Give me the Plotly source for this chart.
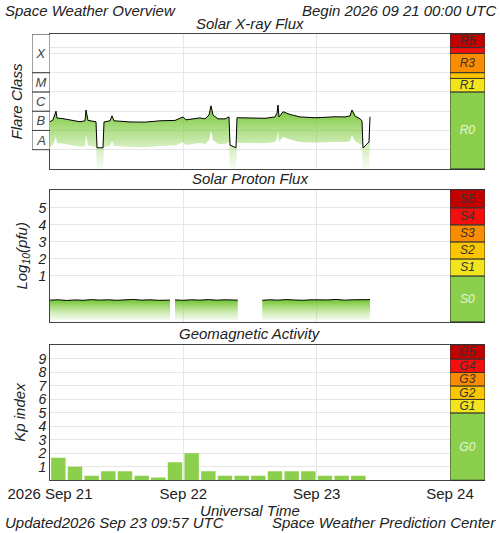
import pandas as pd
import plotly.graph_objects as go

start = pd.Timestamp("2026-09-21 00:00")

# X-ray flux, log10(W/m2), hours from start
xray_hours = [0, 0.54, 1.08, 1.26, 2.16, 2.88, 3.6, 4.5, 5.4, 6.3, 6.48, 6.84, 7.92, 8.28, 8.46,
              9.54, 9.72, 10.8, 11.16, 11.52, 14.4, 17.1, 19.8, 22.5, 23.94, 24.48, 27, 27.9,
              28.62, 28.98, 29.34, 30.24, 31.5, 32.22, 32.4, 33.48, 33.66, 36, 38.7, 40.5,
              40.86, 41.04, 41.22, 41.94, 43.2, 45, 47.7, 49.5, 51.3, 53.1, 54, 54.36, 54.9,
              55.8, 56.16, 56.34, 57.06, 57.42, 57.6]
xray_log = [-6.55, -6.45, -6.0, -6.36, -6.38, -6.42, -6.45, -6.5, -6.55, -6.5, -5.94, -6.48,
            -6.52, -6.55, -7.9, -7.9, -6.56, -6.5, -6.24, -6.5, -6.56, -6.57, -6.5, -6.48,
            -6.3, -6.45, -6.35, -6.4, -6.2, -5.72, -6.2, -6.4, -6.4, -6.3, -7.76, -7.9, -6.34,
            -6.37, -6.37, -6.3, -6.1, -5.68, -6.3, -6.03, -6.17, -6.3, -6.34, -6.32, -6.29,
            -6.3, -6.25, -5.94, -6.25, -6.4, -6.5, -7.91, -7.7, -7.6, -6.29]

# Proton flux log10(pfu), hours from start (None = data gap)
proton_hours = [0, 1.5, 3, 4.5, 6, 7.5, 9, 10.5, 12, 13.5, 15, 16.5, 18, 19.5, 21, 21.6, None,
                22.5, 24, 25.5, 27, 28.5, 30, 31.5, 33, 33.8, None,
                38.2, 39.5, 41, 42.5, 44, 45.5, 47, 48.5, 50, 51.5, 53, 54.5, 56, 57.6]
proton_log = [-0.42, -0.4, -0.44, -0.41, -0.43, -0.39, -0.42, -0.4, -0.43, -0.41, -0.38, -0.42,
              -0.4, -0.43, -0.41, -0.42, None,
              -0.41, -0.43, -0.4, -0.42, -0.39, -0.42, -0.4, -0.41, -0.42, None,
              -0.43, -0.4, -0.42, -0.39, -0.41, -0.43, -0.4, -0.42, -0.41, -0.38, -0.42,
              -0.4, -0.41, -0.39]

# Kp index, 3-hour bins
kp_values = [1.67, 1.0, 0.33, 0.67, 0.67, 0.33, 0.2, 1.33, 2.0, 0.67, 0.33, 0.33, 0.33,
             0.67, 0.67, 0.67, 0.33, 0.33, 0.33]

flare_classes = ["A", "B", "C", "M", "X"]
flare_base = [-8, -7, -6, -5, -4]
flare_top = [-7, -6, -5, -4, -2]

r_labels = ["R0", "R1", " ", "R3", " ", "R5"]
r_base = [-9, -5, -4.301, -4, -3, -2.699]
r_top = [-5, -4.301, -4, -3, -2.699, -2]
s_labels = ["S0", "S1", "S2", "S3", "S4", "S5"]
s_base = [-1.7, 1, 2, 3, 4, 5]
s_top = [1, 2, 3, 4, 5, 6.06]
g_labels = ["G0", "G1", "G2", "G3", "G4", "G5"]
g_base = [0, 5, 6, 7, 8, 9]
g_top = [5, 6, 7, 8, 9, 10.05]
scale_colors = ["#8ccf4c", "#f2e51c", "#fbc500", "#fa8c00", "#f50e0e", "#c20000"]
scale_text = ["#e8f5dc", "#333", "#333", "#333", "#333", "#333"]

FONT = "Liberation Sans"
FADE = [[0, "rgba(125,204,58,0)"], [0.4, "rgba(125,204,58,0.35)"], [1, "rgba(110,195,45,1)"]]


def tstamp(hours):
    return [start + pd.Timedelta(hours=h) for h in hours]


def segments(hours, vals):
    segs, cur = [], ([], [])
    for h, v in zip(hours, vals):
        if h is None:
            segs.append(cur)
            cur = ([], [])
        else:
            cur[0].append(h)
            cur[1].append(v)
    segs.append(cur)
    return segs


def faded_line(hours, vals, lower, xa, ya):
    t = tstamp(hours)
    fig.add_trace(go.Scatter(x=t, y=lower, mode="lines", line=dict(width=0),
                             xaxis=xa, yaxis=ya, hoverinfo="skip"))
    fig.add_trace(go.Scatter(x=t, y=vals, mode="lines", line=dict(color="black", width=1),
                             fill="tonexty", fillgradient=dict(type="vertical", colorscale=FADE),
                             xaxis=xa, yaxis=ya))


fig = go.Figure()

faded_line(xray_hours, xray_log, [v - 1.3 for v in xray_log], "x", "y")
for hs, vs in segments(proton_hours, proton_log):
    faded_line(hs, vs, [-1.7] * len(vs), "x2", "y2")

# Kp bars
kp_times = [start + pd.Timedelta(hours=3 * i + 1.5) for i in range(len(kp_values))]
fig.add_trace(go.Bar(x=kp_times, y=kp_values, width=2.6 * 3600 * 1000, marker_color="#8ccf4c",
                     marker_line_width=0, xaxis="x3", yaxis="y3"))

# flare class boxes
fig.add_trace(go.Bar(x=[0] * 5, y=[t - b for b, t in zip(flare_base, flare_top)], base=flare_base,
                     text=flare_classes, textposition="inside", insidetextanchor="middle",
                     textfont=dict(family=FONT, size=13, color="#444", style="italic"),
                     marker=dict(color="white", line=dict(color="#444", width=1)), width=1,
                     xaxis="x7", yaxis="y"))

# scale colour bars
for labels, base, top, xa, ya in [(r_labels, r_base, r_top, "x4", "y"),
                                   (s_labels, s_base, s_top, "x5", "y2"),
                                   (g_labels, g_base, g_top, "x6", "y3")]:
    fig.add_trace(go.Bar(x=[0] * 6, y=[t - b for b, t in zip(base, top)], base=base,
                         text=labels, textposition="inside", insidetextanchor="middle",
                         textfont=dict(family=FONT, size=12, color=scale_text, style="italic"),
                         marker=dict(color=scale_colors, line=dict(color="#333", width=1)), width=1,
                         xaxis=xa, yaxis=ya))

x0, x1 = start, start + pd.Timedelta(days=3)
day_ticks = [start + pd.Timedelta(days=d) for d in range(4)]
xcommon = dict(range=[x0, x1], domain=[0.1, 0.9], showgrid=True, gridcolor="#e6e6e6",
               tickvals=day_ticks, showline=True, linecolor="#444", mirror=True,
               ticks="", zeroline=False, automargin=False)
ycommon = dict(showline=True, linecolor="#444", mirror=True, showgrid=True, gridcolor="#e6e6e6",
               zeroline=False, automargin=False,
               tickfont=dict(family=FONT, size=14, color="#222", style="italic"),
               title_font=dict(family=FONT, size=15, color="#222", style="italic"))
bar_ax = dict(domain=[0.9, 0.97], range=[-0.5, 0.5], showticklabels=False, showgrid=False,
              zeroline=False, showline=True, linecolor="#333", mirror=True, automargin=False)

fig.update_layout(
    width=500, height=533, margin=dict(l=0, r=0, t=0, b=0, autoexpand=False),
    paper_bgcolor="white", plot_bgcolor="white", showlegend=False, barmode="overlay",
    uniformtext=dict(minsize=12, mode="show"),
    font=dict(family=FONT, color="#222"),
    xaxis=dict(xcommon, anchor="y", showticklabels=False),
    xaxis2=dict(xcommon, anchor="y2", showticklabels=False),
    xaxis3=dict(xcommon, anchor="y3", ticktext=["2026 Sep 21", "Sep 22", "Sep 23", "Sep 24"],
                tickfont=dict(family=FONT, size=15, color="#222"),
                title=dict(text="Universal Time", standoff=0,
                           font=dict(family=FONT, size=15, color="#222", style="italic"))),
    xaxis4=dict(bar_ax, anchor="y"),
    xaxis5=dict(bar_ax, anchor="y2"),
    xaxis6=dict(bar_ax, anchor="y3"),
    xaxis7=dict(domain=[0.064, 0.1], range=[-0.5, 0.5], showticklabels=False, showgrid=False,
                zeroline=False, anchor="y", automargin=False),
    yaxis=dict(ycommon, domain=[0.683, 0.936], range=[-9, -2], showticklabels=False,
               tickvals=[-8, -7, -6, -5, -4, -3, -2.699], title=dict(text="Flare Class", standoff=22)),
    yaxis2=dict(ycommon, domain=[0.396, 0.644], range=[-1.7, 6.06], tickvals=[1, 2, 3, 4, 5],
                title=dict(text="Log<sub>10</sub>(pfu)", standoff=6)),
    yaxis3=dict(ycommon, domain=[0.099, 0.353], range=[0, 10.05], tickvals=list(range(1, 10)),
                title=dict(text="Kp index", standoff=8)),
)

ann = dict(xref="paper", yref="paper", showarrow=False,
           font=dict(family=FONT, size=15, color="#222", style="italic"))
fig.add_annotation(ann, x=0.005, y=1.0, yanchor="top", xanchor="left", text="Space Weather Overview")
fig.add_annotation(ann, x=0.995, y=1.0, yanchor="top", xanchor="right", text="Begin 2026 09 21 00:00 UTC")
fig.add_annotation(ann, x=0.5, y=0.937, yanchor="bottom", text="Solar X-ray Flux")
fig.add_annotation(ann, x=0.5, y=0.645, yanchor="bottom", text="Solar Proton Flux")
fig.add_annotation(ann, x=0.5, y=0.354, yanchor="bottom", text="Geomagnetic Activity")
fig.add_annotation(ann, x=0.005, y=0.0, yanchor="bottom", xanchor="left", text="Updated2026 Sep 23 09:57 UTC")
fig.add_annotation(ann, x=0.995, y=0.0, yanchor="bottom", xanchor="right", text="Space Weather Prediction Center")

fig.write_html("out.html", config={"displayModeBar": False},
               post_script="document.body.style.margin='0';")
